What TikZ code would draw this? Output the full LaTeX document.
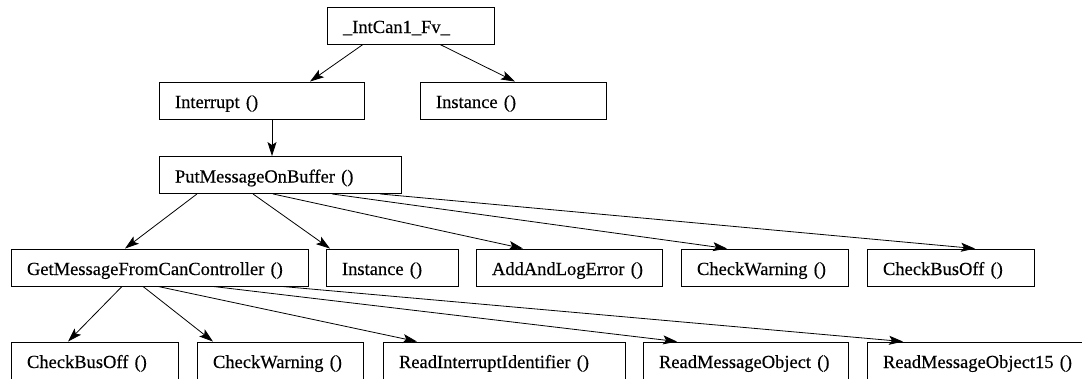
\documentclass[tikz,border=0pt]{standalone}
\usepackage{fontspec}
\setmainfont{Liberation Serif}[BoldFont={Liberation Serif}, BoldFeatures={FakeBold=0.35}]
\usetikzlibrary{arrows.meta}

\begin{document}
\begin{tikzpicture}[x=1pt, y=-1pt, ->, >={Stealth[length=14pt,width=9pt,inset=3pt]},
    fn node/.style={rectangle, draw, line width=0.9pt, minimum height=37pt, inner xsep=16pt, text height=15pt, text depth=0pt, align=left}]
    \tikzstyle{every node}=[font=\fontsize{18.5}{22}\selectfont\bfseries]
    \tikzstyle{every edge}=[draw, line width=0.8pt]

    \useasboundingbox (0,0) rectangle (1082,378);
    \clip (0,0) rectangle (1082,378);

      \node[fn node, text width=135pt] (1) at (410.5,25.5) {\_IntCan1\_Fv\_};
      \node[fn node, text width=173pt] (2) at (261.5,100.5) {Interrupt ()};
      \node[fn node, text width=154pt] (3) at (513,100.5) {Instance ()};
      \node[fn node, text width=210pt] (4) at (280,175) {PutMessageOnBuffer ()};
      \node[fn node, text width=265pt] (5) at (159.5,267.5) {GetMessageFromCanController ()};
      \node[fn node, text width=100pt] (6) at (392,267.5) {Instance ()};
      \node[fn node, text width=154pt] (7) at (569,267.5) {AddAndLogError ()};
      \node[fn node, text width=135pt] (8) at (764.5,267.5) {CheckWarning ()};
      \node[fn node, text width=135pt] (9) at (950.5,267.5) {CheckBusOff ()};
      \node[fn node, text width=135pt] (10) at (94.5,360.5) {CheckBusOff ()};
      \node[fn node, text width=134pt] (11) at (280,360.5) {CheckWarning ()};
      \node[fn node, text width=210pt] (12) at (504,360.5) {ReadInterruptIdentifier ()};
      \node[fn node, text width=173pt] (13) at (745.5,360.5) {ReadMessageObject ()};
      \node[fn node, text width=191pt] (14) at (978.5,360.5) {ReadMessageObject15 ()};

      \path
        ([xshift=-47.5]1.south) edge ([xshift=48.5]2.north)
        ([xshift=29.5]1.south) edge ([xshift=2]3.north)
        ([xshift=10.5]2.south) edge ([xshift=-8]4.north)
        ([xshift=-83]4.south) edge ([xshift=-34.5]5.north)
        ([xshift=-27]4.south) edge ([xshift=-62]6.north)
        ([xshift=-7]4.south) edge ([xshift=-46]7.north)
        ([xshift=52]4.south) edge ([xshift=-37.5]8.north)
        ([xshift=100]4.south) edge ([xshift=24.5]9.north)
        ([xshift=-37.5]5.south) edge ([xshift=-26.5]10.north)
        ([xshift=-16.5]5.south) edge ([xshift=-67]11.north)
        ([xshift=-1.5]5.south) edge ([xshift=-87]12.north)
        ([xshift=53.5]5.south) edge ([xshift=-68.5]13.north)
        ([xshift=122.5]5.south) edge ([xshift=-75.5]14.north);

    \end{tikzpicture}
\end{document}
